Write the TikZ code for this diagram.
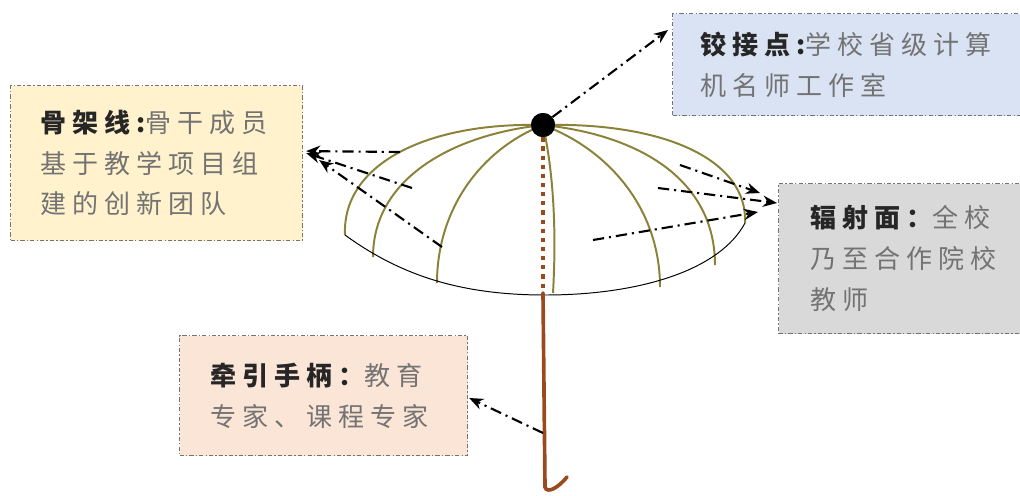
\documentclass[tikz,border=0pt]{standalone}
\usepackage{fontspec}
\newfontfamily\cjk[LetterSpace=23]{Noto Sans CJK SC}
\usetikzlibrary{arrows.meta, positioning, calc}

\definecolor{amarillo}{HTML}{FFF2CC}
\definecolor{azul}{HTML}{DAE3F3}
\definecolor{gris}{HTML}{D9D9D9}
\definecolor{salmon}{HTML}{FBE5D6}
\definecolor{varilla}{HTML}{8A8238}
\definecolor{mango}{HTML}{9A4A1C}

\newcommand{\titulo}[1]{\textbf{\color{black!85}#1}}

\begin{document}
\begin{tikzpicture}[
		x=0.025cm, y=-0.025cm,
		% Cajas de texto con borde punto-raya
		caja/.style={draw=black!55, line width=0.8pt, dash pattern=on 3pt off 1.5pt on 1pt off 1.5pt,
			anchor=north west, align=left, inner ysep=0pt, font=\cjk\fontsize{18.5}{29}\selectfont, text=black!55},
		% Flechas punto-raya
		flecha/.style={-{Stealth[length=10pt,width=8pt]}, line width=1.5pt, dash pattern=on 8pt off 3.5pt on 1.5pt off 3.5pt},
		varilla/.style={draw=varilla, line width=1.4pt}
		]
		\useasboundingbox (0,0) rectangle (1020,495);
		
		% --- CAJAS ---
		\node [caja, fill=amarillo, minimum width=7.3cm, minimum height=3.875cm, text width=5.8cm, inner xsep=0.75cm] (gujia) at (10,85)
			{\titulo{骨架线:}骨干成员\\基于教学项目组\\建的创新团队};
		\node [caja, fill=azul, minimum width=8.95cm, minimum height=2.55cm, text width=7.55cm, inner xsep=0.7cm] (jiaojie) at (672,13)
			{\titulo{铰接点:}学校省级计算\\机名师工作室};
		\node [caja, fill=gris, minimum width=6.3cm, minimum height=3.75cm, text width=4.7cm, inner xsep=0.8cm] (fushe) at (778,183)
			{\titulo{辐射面：}全校\\乃至合作院校\\教师};
		\node [caja, fill=salmon, minimum width=7.2cm, minimum height=3cm, text width=5.65cm, inner xsep=0.775cm] (qianyin) at (179,335)
			{\titulo{牵引手柄：}教育\\专家、课程专家};
		
		% --- PARAGUAS ---
		\node [circle, fill=black, inner sep=0pt, minimum size=0.6cm] (eje) at (543,125) {};
		\coordinate (pie) at (543,293);
		\coordinate (punta) at (545,487);
		\coordinate (gancho) at (567,477);
		
		% varillas
		\draw [varilla] (eje.center) .. controls (425,122) and (342,165) .. (345,235);
		\draw [varilla] (eje.center) .. controls (450,135) and (373,180) .. (373,257);
		\draw [varilla] (eje.center) .. controls (480,150) and (437,210) .. (437,283);
		\draw [varilla] (eje.center) .. controls (555,180) and (556,240) .. (553,293);
		\draw [varilla] (eje.center) .. controls (610,150) and (660,210) .. (660,287);
		\draw [varilla] (eje.center) .. controls (640,135) and (715,180) .. (715,265);
		\draw [varilla] (eje.center) .. controls (665,122) and (748,160) .. (745,223);
		% borde inferior
		\draw [line width=0.7pt] (345,235) .. controls (400,275) and (460,295) .. (545,295)
			.. controls (640,295) and (720,270) .. (745,223);
		
		% mango
		\draw [mango, line width=3pt, dash pattern=on 3pt off 3.5pt] (eje) -- (pie);
		\draw [mango, line width=2.6pt, line cap=round] (pie) -- (punta) .. controls (547,494) and (558,488) .. (gancho);
		\node [circle, fill=black, inner sep=0pt, minimum size=0.6cm] at (eje) {};
		
		% --- FLECHAS ---
		\coordinate (l1) at (400,152);
		\coordinate (l2) at (412,188);
		\coordinate (l3) at (442,247);
		\coordinate (r1) at (680,165);
		\coordinate (r2) at (658,188);
		\coordinate (r3) at (593,240);
		\coordinate (asa) at (543,433);
		
		\draw [flecha] (eje.40) -- ($(jiaojie.north west)+(-4,17)$);
		\draw [flecha] (l1) -- ($(gujia.east)+(3,-12)$);
		\draw [flecha] (l2) -- ($(gujia.east)+(3,-10)$);
		\draw [flecha] (l3) -- ($(gujia.east)+(16,-3)$);
		\draw [flecha] (r1) -- ($(fushe.north west)+(-18,10)$);
		\draw [flecha] (r2) -- ($(fushe.north west)+(-1,20)$);
		\draw [flecha] (r3) -- ($(fushe.north west)+(-20,29)$);
		\draw [flecha] (asa) -- ($(qianyin.north east)+(1,63)$);
		
	\end{tikzpicture}
\end{document}
